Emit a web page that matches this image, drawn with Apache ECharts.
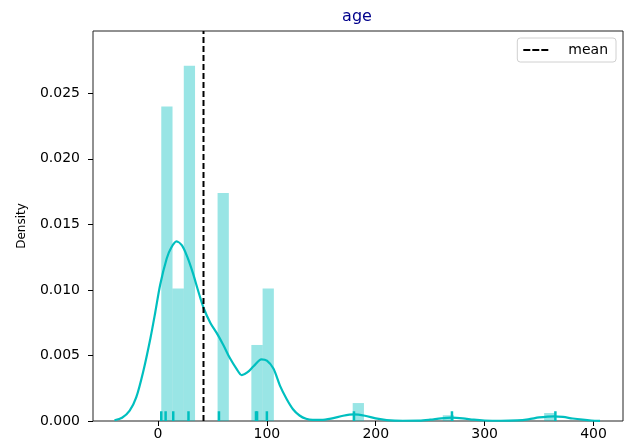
<!DOCTYPE html>
<html>
<head>
<meta charset="utf-8">
<script src="https://cdn.jsdelivr.net/npm/echarts@6/dist/echarts.min.js"></script>
<style>
  html, body { margin: 0; padding: 0; background: #fff; }
  #chart { width: 639px; height: 443px; }
</style>
</head>
<body>
<div id="chart"></div>
<script>
// Histogram of age (days): 35 equal-width bins between the smallest and largest age
const ageMin = 3;
const ageMax = 365;
const binCount = 35;
const binDensity = [
  0.0240, 0.0101, 0.0271, 0, 0, 0.0174, 0, 0, 0.0058, 0.0101,
  0, 0, 0, 0, 0, 0, 0, 0.00137, 0, 0,
  0, 0, 0, 0, 0, 0.00044, 0, 0, 0, 0,
  0, 0, 0, 0, 0.00061
];

// Distinct ages shown as rug ticks along the x axis
const rugAges = [3, 7, 14, 28, 56, 90, 91, 100, 180, 270, 365];

// Kernel density estimate of age
const kdeAge = [
  -40, -33, -26, -20, -13.5, -7, -2.5, 2, 8, 12,
  17, 22, 27, 32, 37, 42, 48, 54, 60, 66,
  72, 77, 82, 88, 95, 100, 106, 112, 118, 124,
  130, 136, 142, 150, 160, 170, 180, 190, 200, 210,
  225, 240, 250, 260, 270, 280, 290, 300, 315, 330,
  340, 350, 358, 364, 372, 381, 390, 398, 406
];
const kdeDensity = [
  0.00006, 0.00025, 0.0008, 0.0018, 0.0038, 0.0063, 0.0083, 0.0104, 0.0124, 0.0132,
  0.0137, 0.0134, 0.0125, 0.0113, 0.0099, 0.0086, 0.0075, 0.0067, 0.0058, 0.0048,
  0.0040, 0.0035, 0.0037, 0.0042, 0.0047, 0.0046, 0.0040, 0.0027, 0.0017, 0.0009,
  0.00042, 0.00017, 0.00008, 0.00008, 0.0002, 0.0004, 0.0005, 0.0004, 0.0002, 0.00007,
  0.00002, 0.00003, 0.0001, 0.0002, 0.00025, 0.0002, 0.0001, 0.00004, 0.00002, 0.00005,
  0.00013, 0.00027, 0.00034, 0.00036, 0.00031, 0.00019, 0.0001, 0.00004, 0.00001
];

const meanAge = 41.8;

const xTicks = [0, 100, 200, 300, 400];
const yTicks = [0, 0.005, 0.010, 0.015, 0.020, 0.025];

const xRange = [-59.7, 427.1];
const yRange = [0, 0.02975];

const teal = '#00bfbf';
const font = 'DejaVu Sans';

const binWidth = (ageMax - ageMin) / binCount;
const histData = binDensity.map((d, i) => [ageMin + i * binWidth, ageMin + (i + 1) * binWidth, d]);
const kdeData = kdeAge.map((a, i) => [a, kdeDensity[i]]);
const rugData = rugAges.map(a => [a, 0]);

const chart = echarts.init(document.getElementById('chart'), null, { renderer: 'canvas' });

chart.setOption({
  animation: false,
  backgroundColor: '#fff',
  title: {
    text: 'age',
    left: 357,
    top: 9,
    textAlign: 'center',
    padding: 0,
    textStyle: { color: '#00008b', fontSize: 16, fontWeight: 'normal', fontFamily: font }
  },
  legend: {
    data: [{ name: 'mean', icon: 'path://M0,0H7V2H0Z M9,0H16V2H9Z M18,0H25V2H18Z' }],
    top: 38,
    right: 23,
    orient: 'horizontal',
    padding: [5, 8, 5, 6],
    itemWidth: 25,
    itemHeight: 2,
    borderColor: '#d0d0d0',
    borderWidth: 1,
    borderRadius: 3,
    backgroundColor: '#fff',
    textStyle: { fontSize: 14, color: '#000', fontFamily: font, padding: [0, 0, 0, 15] }
  },
  grid: {
    left: 93, right: 16, top: 31, bottom: 22,
    show: true, borderColor: '#222', borderWidth: 1, backgroundColor: 'transparent'
  },
  xAxis: {
    type: 'value',
    min: xRange[0],
    max: xRange[1],
    splitLine: { show: false },
    axisLine: { show: false, onZero: false },
    axisTick: { show: true, customValues: xTicks, length: 5, lineStyle: { color: '#000', width: 1 } },
    axisLabel: { customValues: xTicks, margin: 6, fontSize: 14, color: '#000', fontFamily: font }
  },
  yAxis: {
    type: 'value',
    min: yRange[0],
    max: yRange[1],
    name: 'Density',
    nameLocation: 'middle',
    nameGap: 65,
    nameTextStyle: { fontSize: 12, color: '#000', fontFamily: font },
    splitLine: { show: false },
    axisLine: { show: false, onZero: false },
    axisTick: { show: true, customValues: yTicks, length: 5, lineStyle: { color: '#000', width: 1 } },
    axisLabel: {
      customValues: yTicks, margin: 13, fontSize: 14, color: '#000', fontFamily: font,
      formatter: v => v.toFixed(3)
    }
  },
  series: [
    {
      name: 'hist',
      type: 'custom',
      silent: true,
      z: 1,
      data: histData,
      encode: { x: [0, 1], y: 2 },
      renderItem(params, api) {
        const d = api.value(2);
        if (!d) return null;
        const p0 = api.coord([api.value(0), 0]);
        const p1 = api.coord([api.value(1), d]);
        return {
          type: 'rect',
          shape: { x: p0[0], y: p1[1], width: p1[0] - p0[0], height: p0[1] - p1[1] },
          style: { fill: 'rgba(0,191,191,0.4)' }
        };
      }
    },
    {
      name: 'kde',
      type: 'line',
      silent: true,
      z: 2,
      data: kdeData,
      smooth: 0.3,
      symbol: 'none',
      lineStyle: { color: teal, width: 2.2 }
    },
    {
      name: 'rug',
      type: 'custom',
      silent: true,
      z: 3,
      data: rugData,
      encode: { x: 0, y: 1 },
      renderItem(params, api) {
        const p = api.coord([api.value(0), 0]);
        const h = params.coordSys.height * 0.025;
        return {
          type: 'line',
          shape: { x1: p[0], y1: p[1], x2: p[0], y2: p[1] - h },
          style: { stroke: teal, lineWidth: 2.5 }
        };
      }
    },
    {
      name: 'mean',
      type: 'line',
      silent: true,
      z: 4,
      data: [[meanAge, yRange[0]], [meanAge, yRange[1]]],
      symbol: 'none',
      color: '#000',
      lineStyle: { color: '#000', width: 2, type: [6, 3] }
    }
  ]
});
</script>
</body>
</html>
